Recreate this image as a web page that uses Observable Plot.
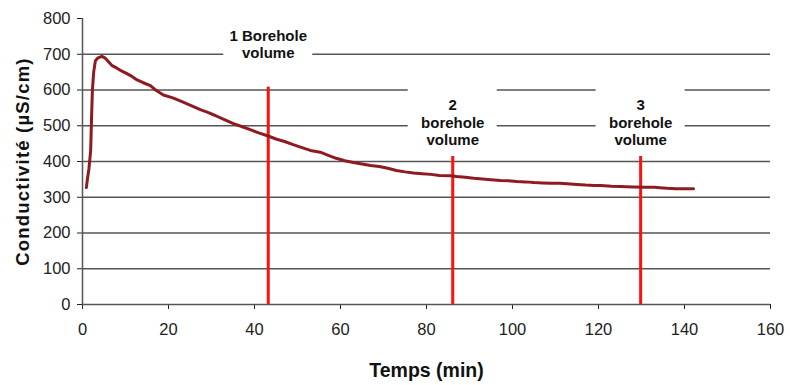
<!DOCTYPE html>
<html>
<head>
<meta charset="utf-8">
<script src="https://cdn.jsdelivr.net/npm/d3@7"></script>
<script src="https://cdn.jsdelivr.net/npm/@observablehq/plot@0.6"></script>
<style>
  html, body { margin: 0; padding: 0; background: #fff; }
  #chart svg { display: block; }
  #chart [aria-label="x-axis label"] text,
  #chart [aria-label="x-axis label"] { font-family: "Liberation Sans", Arial, sans-serif; font-weight: bold; font-size: 19.5px; fill: #111; }
  #chart [aria-label="y-axis label"] text,
  #chart [aria-label="y-axis label"] { font-family: "Liberation Sans", Arial, sans-serif; font-weight: bold; font-size: 18.5px; letter-spacing: 1.2px; fill: #111; }
  #chart [aria-label="x-axis tick label"] text,
  #chart [aria-label="y-axis tick label"] text { font-family: "Liberation Sans", Arial, sans-serif; font-size: 16.5px; fill: #222; }
</style>
</head>
<body>
<div id="chart"></div>
<script>
// Conductivity curve (time in minutes, conductivity in µS/cm)
const times = [0.9, 1.1, 1.5, 1.9, 2.1, 2.3, 2.6, 3.0, 3.6, 4.5, 5.3, 6.0, 6.9, 8.0, 8.8, 10.0, 11.5, 12.7, 14.0, 15.8, 17.0, 18.8, 21.0, 23.0, 25.0, 27.4, 29.0, 31.0, 33.0, 35.1, 37.0, 39.0, 41.0, 43.0, 45.0, 47.0, 49.0, 50.7, 53.0, 55.3, 57.0, 59.0, 61.0, 63.0, 65.0, 67.0, 69.0, 71.0, 73.0, 75.0, 77.0, 79.0, 81.0, 83.0, 85.6, 87.0, 89.0, 91.0, 93.0, 95.0, 97.2, 99.0, 101.0, 103.0, 105.0, 107.0, 109.0, 111.0, 112.7, 115.0, 117.0, 119.0, 120.5, 123.0, 125.0, 128.1, 131.0, 133.0, 135.0, 136.0, 138.0, 140.0, 142.1];
const conductivity = [327, 347, 380, 431, 520, 598, 650, 682, 690, 694, 689, 680, 668, 661, 655, 648, 638, 628, 621, 612, 600, 586, 578, 568, 558, 545, 538, 528, 517, 506, 498, 489, 480, 472, 463, 456, 447, 440, 431, 426, 418, 409, 402, 397, 393, 389, 386, 381, 375, 371, 368, 366, 364, 361, 360, 358, 356, 353, 351, 349, 347, 346, 344, 343, 341, 340, 339, 339, 338, 336, 334, 333, 333, 331, 330, 329, 328, 328, 326, 325, 324, 324, 324];

// Axis ticks and grid
const xTicks = [0, 20, 40, 60, 80, 100, 120, 140, 160];
const yTicks = [0, 100, 200, 300, 400, 500, 600, 700, 800];
const gridValues = [0, 100, 200, 300, 400, 500, 600, 700];

// Borehole volume markers
const volumeTimes = [43.2, 86.1, 129.8];
const volumeLineTops = [608, 414, 414];
const volumeLabels = ["1 Borehole\nvolume", "2\nborehole\nvolume", "3\nborehole\nvolume"];
const volumeLabelY = [729, 510, 510];
const labelBoxTop = [765, 625, 625];
const labelBoxBottom = [650, 440, 440];
const labelBoxHalfWidth = 10.35;

const curve = times.map((t, i) => ({t, c: conductivity[i]}));
const markers = volumeTimes.map((t, i) => ({
  t, top: volumeLineTops[i], label: volumeLabels[i], ly: volumeLabelY[i],
  x1: t - labelBoxHalfWidth, x2: t + labelBoxHalfWidth,
  y1: labelBoxBottom[i], y2: labelBoxTop[i]
}));

const chart = Plot.plot({
  width: 790,
  height: 385,
  marginLeft: 82,
  marginRight: 20,
  marginTop: 18,
  marginBottom: 81,
  style: {fontFamily: "'Liberation Sans', Arial, sans-serif", fontSize: "16px", color: "#222", background: "#fff"},
  x: {domain: [0, 160], ticks: xTicks, tickSize: 5, tickPadding: 14, tickFormat: d => String(d),
      label: "Temps (min)", labelAnchor: "center", labelOffset: 72, labelArrow: "none"},
  y: {domain: [0, 800], ticks: yTicks, tickSize: 5, tickPadding: 7, tickFormat: d => String(d),
      label: "Conductivité (µS/cm)", labelAnchor: "center", labelOffset: 67, labelArrow: "none"},
  marks: [
    Plot.ruleY(gridValues, {stroke: "#555", strokeWidth: 1.5}),
    Plot.ruleX([0], {y1: 0, y2: 800, stroke: "#555", strokeWidth: 1.5}),
    Plot.rect(markers, {x1: "x1", x2: "x2", y1: "y1", y2: "y2", fill: "#fff"}),
    Plot.ruleX(markers, {x: "t", y1: 0, y2: "top", stroke: "#ff1010", strokeWidth: 3}),
    Plot.line(curve, {x: "t", y: "c", stroke: "#8e1b20", strokeWidth: 3, strokeLinejoin: "round", strokeLinecap: "round"}),
    Plot.text(markers, {x: "t", y: "ly", text: "label", lineAnchor: "middle", lineHeight: 1.17,
      fontWeight: "bold", fontSize: 15, fill: "#111", fontFamily: "'Liberation Sans', Arial, sans-serif"})
  ]
});
document.getElementById("chart").appendChild(chart);
</script>
</body>
</html>
